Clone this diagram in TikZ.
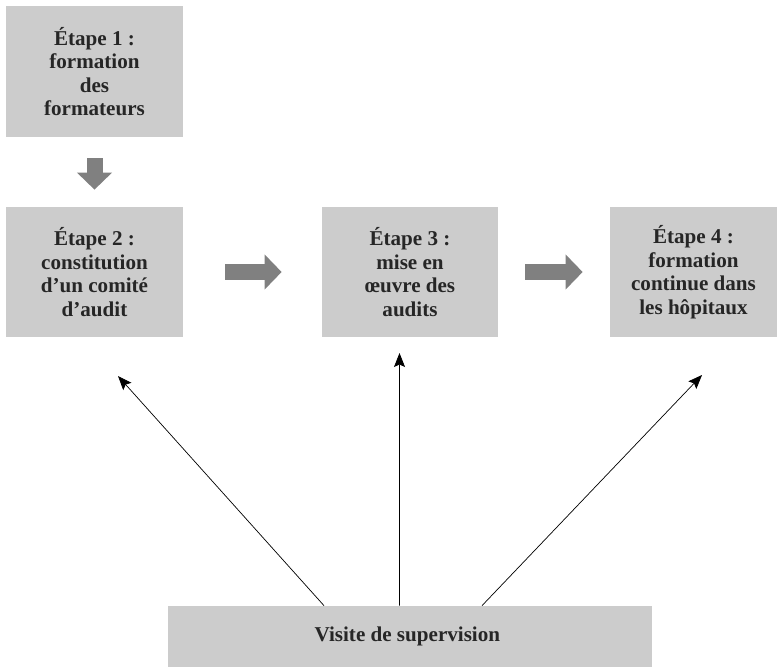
\documentclass[tikz,border=0pt]{standalone}
\usepackage{fontspec}
\setmainfont{Liberation Serif}
\usepackage{tikz}
\usetikzlibrary{arrows.meta}
\tikzstyle{etape}=[rectangle, fill=black!20, inner sep=0pt, align=center, text=black!85, font=\fontsize{12}{13.4}\selectfont\bfseries]
\tikzstyle{fleche}=[draw=black!50, line width=3.2mm, -{Triangle[length=3.4mm, width=6.8mm]}]
\tikzstyle{trait}=[draw=black, thin, -{Stealth[length=2.8mm, width=2.2mm, inset=0.5mm]}]

\begin{document}
\begin{tikzpicture}
		   \useasboundingbox (0, 0) rectangle (15.6, -13.34);
		   \begin{scope}
			   \node (e1) at (1.89, -1.43)[etape, minimum width=3.54cm, minimum height=2.62cm] {
				   Étape 1 :\\ formation\\ des\\ formateurs
			   };
			   \node (e2) at (1.89, -5.44)[etape, minimum width=3.54cm, minimum height=2.6cm] {
				   Étape 2 :\\ constitution\\ d’un comité\\ d’audit
			   };
			   \node (e3) at (8.2, -5.44)[etape, minimum width=3.52cm, minimum height=2.6cm] {
				   Étape 3 :\\ mise en\\ œuvre des\\ audits
			   };
			   \node (e4) at (13.87, -5.44)[etape, minimum width=3.34cm, minimum height=2.6cm] {
				   Étape 4 :\\ formation\\ continue dans\\ les hôpitaux
			   };
			   \node (sup) at (8.2, -12.73)[etape, minimum width=9.68cm, minimum height=1.22cm] {
				   Visite de supervision
			   };
			   \coordinate (c2) at (2.36, -7.52);
			   \coordinate (c3) at (7.99, -7.06);
			   \coordinate (c4) at (14.04, -7.5);
		   \end{scope}
		   \begin{scope}
			   \path (e1) edge [fleche, shorten <=4.2mm, shorten >=3.4mm] (e2);
			   \path (e2) edge [fleche, shorten <=8.4mm, shorten >=8mm] (e3);
			   \path (e3) edge [fleche, shorten <=5.4mm, shorten >=5.4mm] (e4);
			   \path ([xshift=-1.72cm]sup.north) edge [trait] (c2);
			   \path ([xshift=-0.21cm]sup.north) edge [trait] (c3);
			   \path ([xshift=1.44cm]sup.north) edge [trait] (c4);
		   \end{scope}
	   \end{tikzpicture}
\end{document}
